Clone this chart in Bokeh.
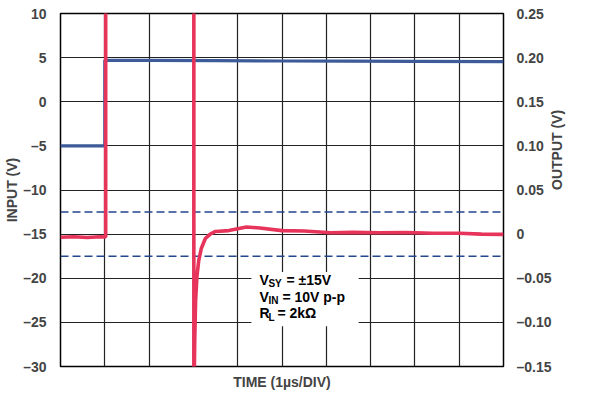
import math
from bokeh.plotting import figure
from bokeh.models import (Range1d, LinearAxis, FixedTicker, CustomJSTickFormatter,
                          Span, BoxAnnotation, Label)
from bokeh.embed import file_html
from bokeh.resources import INLINE

# ---- data ----
# time in divisions (1 us/DIV)
input_t = [0.0, 1.0, 1.0, 2.0, 3.5, 5.0, 6.5, 8.0, 10.0]
input_v = [-5.0, -5.0, 4.7, 4.68, 4.65, 4.62, 4.6, 4.58, 4.55]

output_t = [0.0, 0.3, 0.6, 0.9, 1.02, 1.02, 3.01, 3.01, 3.03, 3.05, 3.08, 3.12,
            3.18, 3.27, 3.38, 3.5, 3.8, 4.2, 4.5, 5.0, 5.5, 6.1, 6.6, 7.2,
            7.8, 8.4, 9.0, 9.5, 10.0]
output_v = [-0.0035, -0.003, -0.0038, -0.003, -0.0032, 0.30, 0.30, -0.20, -0.12,
            -0.075, -0.048, -0.03, -0.016, -0.005, 0.0, 0.003, 0.004, 0.008,
            0.007, 0.004, 0.0035, 0.0015, 0.002, 0.0015, 0.0018, 0.001, 0.001,
            0.0, -0.0003]

limit_levels = [0.025, -0.025]

left_ticks = [-30, -25, -20, -15, -10, -5, 0, 5, 10]
left_labels = ["–30", "–25", "–20", "–15", "–10", "–5", "0", "5", "10"]
right_ticks = [-0.15, -0.10, -0.05, 0.0, 0.05, 0.10, 0.15, 0.20, 0.25]
right_labels = ["–0.15", "–0.10", "–0.05", "0", "0.05", "0.10", "0.15", "0.20", "0.25"]
x_divs = list(range(0, 11))

FONT = "Liberation Sans"
RED = "#E6345A"
BLUE = "#3C5B98"
NAVY = "#23468C"

p = figure(width=600, height=392, output_backend="svg", toolbar_location=None,
           x_range=Range1d(0, 10), y_range=Range1d(-30, 10),
           min_border_left=60, min_border_right=97, min_border_top=13,
           min_border_bottom=26)
p.extra_y_ranges = {"output": Range1d(-0.15, 0.25)}
p.background_fill_color = "white"
p.border_fill_color = "white"
p.outline_line_color = "black"
p.outline_line_width = 1.5

fmt_code = """
const i = tvals.findIndex(t => Math.abs(t - tick) < 1e-9);
return i >= 0 ? tlabels[i] : '';
"""

# bottom axis
xa = p.xaxis[0]
xa.ticker = FixedTicker(ticks=[])
xa.axis_line_color = None
xa.major_tick_line_color = None
xa.minor_tick_line_color = None
xa.axis_label = "TIME (1µs/DIV)"
xa.axis_label_text_font = FONT
xa.axis_label_text_font_style = "bold"
xa.axis_label_text_font_size = "14px"
xa.axis_label_standoff = 7
xa.major_label_standoff = 0

# left axis
ya = p.yaxis[0]
ya.ticker = FixedTicker(ticks=left_ticks)
ya.formatter = CustomJSTickFormatter(args=dict(tvals=left_ticks, tlabels=left_labels), code=fmt_code)
ya.axis_line_color = None
ya.major_tick_line_color = None
ya.minor_tick_line_color = None
ya.major_label_standoff = 8
ya.major_label_text_font = FONT
ya.major_label_text_font_style = "bold"
ya.major_label_text_font_size = "14px"
ya.axis_label = "INPUT (V)"
ya.axis_label_text_font = FONT
ya.axis_label_text_font_style = "bold"
ya.axis_label_text_font_size = "14px"
ya.axis_label_standoff = 0

# right axis
ra = LinearAxis(y_range_name="output")
ra.ticker = FixedTicker(ticks=right_ticks)
ra.formatter = CustomJSTickFormatter(args=dict(tvals=right_ticks, tlabels=right_labels), code=fmt_code)
ra.axis_line_color = None
ra.major_tick_line_color = None
ra.minor_tick_line_color = None
ra.major_label_standoff = 7
ra.major_label_text_font = FONT
ra.major_label_text_font_style = "bold"
ra.major_label_text_font_size = "14px"
ra.axis_label = "OUTPUT (V)"
ra.axis_label_text_font = FONT
ra.axis_label_text_font_style = "bold"
ra.axis_label_text_font_size = "14px"
ra.axis_label_standoff = 2
ra.axis_label_orientation = math.pi / 2
p.add_layout(ra, "right")

# grids
p.xgrid.ticker = FixedTicker(ticks=x_divs)
p.ygrid.ticker = FixedTicker(ticks=left_ticks)
for g in (p.xgrid[0], p.ygrid[0]):
    g.grid_line_color = "#222222"
    g.grid_line_width = 1.2
    g.grid_line_alpha = 1.0

# dashed limit lines
for lv in limit_levels:
    p.add_layout(Span(location=lv, dimension="width", y_range_name="output",
                      line_color=NAVY, line_width=1.6, line_dash="8 4", level="underlay"))

# traces
p.line(input_t, input_v, line_color=BLUE, line_width=3.2)
p.line(output_t, output_v, y_range_name="output", line_color=RED, line_width=3.6)

# annotation box
p.add_layout(BoxAnnotation(left=4.31, right=6.73, bottom=-25.45, top=-19.3,
                           fill_color="white", fill_alpha=1.0, line_color=None))

def txt(x, y, s, xo=0, yo=0, size="14px"):
    p.add_layout(Label(x=x, y=y, text=s, x_offset=xo, y_offset=yo,
                       text_font=FONT, text_font_style="bold", text_font_size=size,
                       text_baseline="middle", text_align="left", text_color="black"))

tx = 4.49
rows = [(-20.19, "V", "SY", "= ±15V", 9, 27),
        (-22.08, "V", "IN", "= 10V p-p", 9, 23),
        (-23.98, "R", "L", "= 2kΩ", 9, 18)]
for y, main, sub, rest, so, ro in rows:
    txt(tx, y, main)
    txt(tx, y, sub, xo=so, yo=-4, size="10px")
    txt(tx, y, rest, xo=ro)

# figure number, outside the frame (screen units relative to the frame)
p.add_layout(Label(x=533, y=-14.5, x_units="screen", y_units="screen",
                   text="254", angle=math.pi / 2,
                   text_font=FONT, text_font_size="8px", text_color="#444444",
                   text_baseline="middle", text_align="center"))

open("out.html", "w").write(file_html(p, INLINE))
